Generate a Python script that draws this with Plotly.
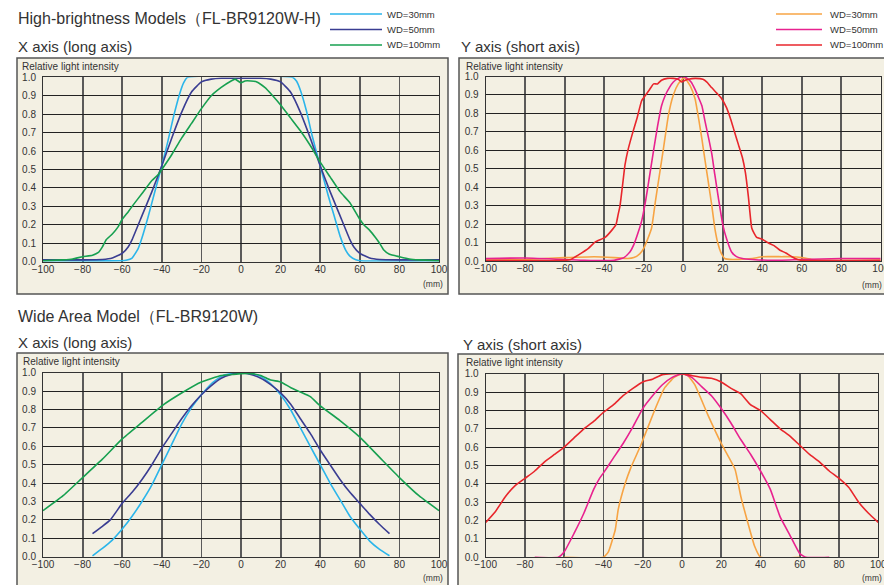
import plotly.graph_objects as go

W, H = 884, 585

# ---------------- DATA ----------------
x_ticks = [-100, -80, -60, -40, -20, 0, 20, 40, 60, 80, 100]
y_ticks = [0.0, 0.1, 0.2, 0.3, 0.4, 0.5, 0.6, 0.7, 0.8, 0.9, 1.0]

# High-brightness, X axis (long axis)
hbx_wd30_x = [-100, -60, -58, -55, -52, -50, -47, -44, -40, -37, -34, -31, -29, -27, 26, 28, 30, 33, 36, 40, 44, 47, 50, 53, 55, 58, 60, 100]
hbx_wd30_y = [0.005, 0.005, 0.008, 0.02, 0.07, 0.13, 0.24, 0.36, 0.52, 0.65, 0.79, 0.91, 0.97, 1.0, 1.0, 0.98, 0.93, 0.82, 0.68, 0.52, 0.36, 0.25, 0.14, 0.06, 0.03, 0.01, 0.005, 0.005]
hbx_wd50_x = [-100, -80, -70, -65, -60, -57, -55, -50, -45, -40, -35, -30, -25, -20, -15, -10, 0, 10, 15, 20, 25, 30, 35, 40, 45, 50, 55, 57, 60, 65, 70, 80, 100]
hbx_wd50_y = [0.01, 0.01, 0.012, 0.02, 0.045, 0.08, 0.12, 0.25, 0.38, 0.52, 0.67, 0.81, 0.92, 0.975, 0.99, 0.995, 0.995, 0.995, 0.99, 0.975, 0.92, 0.81, 0.67, 0.52, 0.38, 0.25, 0.12, 0.08, 0.045, 0.02, 0.012, 0.01, 0.01]
hbx_wd100_x = [-100, -90, -85, -80, -75, -72, -70, -68, -65, -62, -60, -57, -55, -50, -45, -42, -40, -35, -30, -25, -20, -15, -10, -5, -3, 0, 2, 5, 8, 12, 16, 20, 25, 30, 35, 40, 45, 50, 55, 60, 62, 65, 68, 70, 72, 75, 80, 85, 90, 100]
hbx_wd100_y = [0.005, 0.01, 0.015, 0.027, 0.035, 0.05, 0.08, 0.12, 0.15, 0.19, 0.23, 0.27, 0.3, 0.37, 0.44, 0.47, 0.5, 0.58, 0.67, 0.75, 0.83, 0.9, 0.945, 0.98, 0.99, 0.97, 0.98, 0.98, 0.975, 0.945, 0.9, 0.85, 0.78, 0.71, 0.63, 0.54, 0.46, 0.38, 0.32, 0.23, 0.2, 0.17, 0.13, 0.1, 0.065, 0.04, 0.027, 0.015, 0.01, 0.005]

# High-brightness, Y axis (short axis)
hby_wd30_x = [-100, -80, -60, -45, -35, -28, -25, -22, -20, -18, -16, -14, -12, -10, -7.5, -5, -2.5, 0, 1, 3.5, 6, 8, 9.5, 11, 12.7, 14.5, 16, 17.5, 19, 21, 25, 35, 40, 50, 55, 60, 65, 70, 100]
hby_wd30_y = [0.005, 0.01, 0.02, 0.025, 0.02, 0.015, 0.02, 0.04, 0.07, 0.12, 0.18, 0.33, 0.47, 0.61, 0.79, 0.9, 0.96, 0.99, 0.99, 0.95, 0.88, 0.76, 0.66, 0.55, 0.43, 0.3, 0.18, 0.1, 0.05, 0.015, 0.01, 0.015, 0.025, 0.025, 0.025, 0.02, 0.01, 0.005, 0.005]
hby_wd50_x = [-100, -80, -60, -50, -35, -30, -27, -25, -23, -21, -19, -17.5, -15, -13, -11, -9, -7, -5, -2.5, 0, 2, 4, 6, 8, 9.5, 11, 13, 14.5, 16, 18, 20, 22, 24.5, 27, 30, 35, 45, 60, 80, 100]
hby_wd50_y = [0.015, 0.018, 0.01, 0.005, 0.005, 0.02, 0.05, 0.09, 0.15, 0.22, 0.33, 0.43, 0.6, 0.73, 0.84, 0.9, 0.94, 0.97, 0.99, 1.0, 0.99, 0.97, 0.93, 0.88, 0.84, 0.76, 0.66, 0.58, 0.47, 0.33, 0.2, 0.12, 0.05, 0.025, 0.015, 0.01, 0.005, 0.01, 0.015, 0.015]
hby_wd100_x = [-100, -60, -57, -53, -48, -44.5, -39.5, -36, -34, -33, -32, -30.5, -29.5, -28, -26, -23.5, -21, -19, -17, -15, -13, -11, -8, -5, -2.5, -0.8, 1, 2.6, 6, 10, 12, 14.4, 17, 19.5, 22, 24, 26, 28, 30, 31.5, 33, 34.7, 36, 37.2, 40, 43, 46, 49, 52, 55, 58, 60, 100]
hby_wd100_y = [0.005, 0.005, 0.01, 0.035, 0.07, 0.105, 0.13, 0.17, 0.2, 0.25, 0.3, 0.43, 0.52, 0.6, 0.68, 0.77, 0.87, 0.9, 0.93, 0.96, 0.96, 0.98, 0.99, 0.99, 0.985, 0.97, 0.98, 0.985, 0.99, 0.985, 0.97, 0.94, 0.91, 0.88, 0.83, 0.77, 0.7, 0.63, 0.56, 0.48, 0.35, 0.18, 0.15, 0.13, 0.12, 0.1, 0.085, 0.06, 0.045, 0.025, 0.01, 0.005, 0.005]

# Wide area, X axis (long axis)
wax_wd30_x = [-75, -70, -65, -60, -55, -50, -45, -40, -35, -30, -25, -20, -15, -10, -5, 0, 5, 10, 15, 20, 25, 30, 35, 40, 45, 50, 55, 60, 65, 70, 75]
wax_wd30_y = [0.005, 0.045, 0.09, 0.15, 0.22, 0.3, 0.39, 0.5, 0.61, 0.72, 0.81, 0.88, 0.94, 0.98, 0.995, 1.0, 0.995, 0.98, 0.94, 0.88, 0.8, 0.7, 0.6, 0.5, 0.4, 0.31, 0.22, 0.15, 0.085, 0.04, 0.005]
wax_wd50_x = [-75, -70, -66, -60, -55, -50, -45, -40, -35, -30, -25, -20, -15, -10, -5, 0, 5, 10, 15, 20, 25, 30, 35, 40, 45, 50, 55, 60, 65, 70, 75]
wax_wd50_y = [0.125, 0.165, 0.2, 0.29, 0.35, 0.42, 0.5, 0.59, 0.67, 0.75, 0.82, 0.88, 0.93, 0.97, 0.99, 1.0, 0.99, 0.97, 0.935, 0.89, 0.83, 0.75, 0.67, 0.58, 0.5, 0.42, 0.35, 0.29, 0.23, 0.175, 0.125]
wax_wd100_x = [-100, -90, -80, -70, -60, -50, -40, -30, -20, -10, -5, 0, 5, 10, 15, 20, 25, 30, 35, 40, 50, 60, 70, 80, 90, 100]
wax_wd100_y = [0.25, 0.33, 0.43, 0.53, 0.64, 0.73, 0.82, 0.89, 0.95, 0.985, 0.99, 0.995, 0.995, 0.985, 0.96, 0.95, 0.92, 0.895, 0.87, 0.82, 0.74, 0.65, 0.54, 0.43, 0.33, 0.25]

# Wide area, Y axis (short axis)
way_wd30_x = [-60, -40, -37.5, -34, -32.5, -29, -26, -21, -14, -9, -4, 0, 3, 6.5, 13, 20, 27, 30, 33.5, 37, 40, 60]
way_wd30_y = [0.0, 0.0, 0.03, 0.15, 0.26, 0.4, 0.49, 0.61, 0.8, 0.92, 0.98, 1.0, 0.99, 0.94, 0.78, 0.62, 0.48, 0.33, 0.19, 0.06, 0.0, 0.0]
way_wd50_x = [-75, -63, -60, -55, -50, -45, -42, -40, -35, -30, -25, -20, -15, -10, -5, 0, 5, 10, 15, 20, 25, 30, 35, 40, 45, 50, 55, 60, 63, 75]
way_wd50_y = [0.0, 0.0, 0.03, 0.13, 0.24, 0.37, 0.43, 0.46, 0.54, 0.62, 0.71, 0.81, 0.88, 0.94, 0.98, 1.0, 0.98, 0.93, 0.88, 0.81, 0.73, 0.64, 0.56, 0.47, 0.37, 0.22, 0.12, 0.02, 0.0, 0.0]
way_wd100_x = [-100, -95, -90, -85, -80, -75, -70, -65, -60, -55, -50, -45, -40, -35, -30, -25, -20, -15, -10, -5, 0, 5, 10, 15, 20, 25, 30, 35, 40, 45, 50, 55, 60, 65, 70, 75, 80, 85, 90, 95, 100]
way_wd100_y = [0.19, 0.25, 0.33, 0.39, 0.43, 0.47, 0.52, 0.56, 0.6, 0.65, 0.7, 0.74, 0.79, 0.83, 0.88, 0.92, 0.955, 0.97, 0.995, 1.0, 1.0, 0.99, 0.98, 0.975, 0.955, 0.92, 0.89, 0.83, 0.8, 0.75, 0.7, 0.66, 0.61, 0.56, 0.52, 0.47, 0.43, 0.38, 0.3, 0.24, 0.19]

legend_labels = ["WD=30mm", "WD=50mm", "WD=100mm"]
x_colors = ["#2bb5ea", "#3a3d92", "#17a050"]
y_colors = ["#f7a444", "#e8228f", "#e8262c"]

# ---------------- LAYOUT HELPERS ----------------
FONT = "Liberation Sans"
TXT = "#333333"
BG = "#f3f0e3"


def px(x):
    return x / W


def py(y):
    return 1 - y / H


# plot areas in screen pixels: (left, right, top, bottom)
areas = {
    1: (43, 439, 77.3, 261.7),
    2: (485.7, 880.7, 76.5, 261.3),
    3: (43, 439, 372.7, 556.7),
    4: (485.7, 878.3, 373.7, 557.3),
}

fig = go.Figure()

series = [
    (1, [(hbx_wd30_x, hbx_wd30_y), (hbx_wd50_x, hbx_wd50_y), (hbx_wd100_x, hbx_wd100_y)], x_colors),
    (2, [(hby_wd30_x, hby_wd30_y), (hby_wd50_x, hby_wd50_y), (hby_wd100_x, hby_wd100_y)], y_colors),
    (3, [(wax_wd30_x, wax_wd30_y), (wax_wd50_x, wax_wd50_y), (wax_wd100_x, wax_wd100_y)], x_colors),
    (4, [(way_wd30_x, way_wd30_y), (way_wd50_x, way_wd50_y), (way_wd100_x, way_wd100_y)], y_colors),
]

for idx, data, cols in series:
    xa = "x" if idx == 1 else f"x{idx}"
    ya = "y" if idx == 1 else f"y{idx}"
    for (xs, ys), c, name in zip(data, cols, legend_labels):
        fig.add_trace(go.Scatter(x=xs, y=ys, mode="lines", name=name,
                                 line=dict(color=c, width=1.6, shape="spline", smoothing=0.4),
                                 xaxis=xa, yaxis=ya, showlegend=False,
                                 cliponaxis=True))

layout = dict(
    width=W, height=H,
    autosize=False,
    margin=dict(l=0, r=0, t=0, b=0, pad=0, autoexpand=False),
    paper_bgcolor="white",
    plot_bgcolor="rgba(0,0,0,0)",
    font=dict(family=FONT, color=TXT),
    showlegend=False,
)

for idx, (l, r, t, b) in areas.items():
    xk = "xaxis" if idx == 1 else f"xaxis{idx}"
    yk = "yaxis" if idx == 1 else f"yaxis{idx}"
    xa_ref = "x" if idx == 1 else f"x{idx}"
    ya_ref = "y" if idx == 1 else f"y{idx}"
    layout[xk] = dict(domain=[px(l), px(r)], range=[-100, 100], anchor=ya_ref,
                      tickvals=x_ticks, showgrid=True, gridcolor="#5a5a5a", gridwidth=1.8,
                      zeroline=False, showline=True, linecolor="#333333", linewidth=1, mirror=True,
                      ticks="", ticklabelstandoff=-2, automargin=False, ticklabeloverflow="allow",
                      tickfont=dict(size=10, color=TXT, family=FONT), fixedrange=True)
    layout[yk] = dict(domain=[py(b), py(t)], range=[0, 1], anchor=xa_ref,
                      tickvals=y_ticks, tickformat=".1f", showgrid=True, gridcolor="#222222", gridwidth=1,
                      zeroline=False, showline=True, linecolor="#333333", linewidth=1, mirror=True,
                      ticks="", ticklabelstandoff=4, automargin=False,
                      tickfont=dict(size=10, color=TXT, family=FONT), fixedrange=True)

shapes = []
# panel boxes
boxes = [(17, 448, 58, 294), (459, 900, 58, 294), (17, 448, 353, 610), (458, 900, 354, 610)]
for (l, r, t, b) in boxes:
    shapes.append(dict(type="rect", xref="paper", yref="paper", x0=px(l), x1=px(r), y0=py(b), y1=py(t),
                       fillcolor=BG, line=dict(color="#555555", width=1.5), layer="below"))

annotations = []


def text(x, y, s, size, anchor="left"):
    annotations.append(dict(xref="paper", yref="paper", x=px(x), y=py(y), text=s, showarrow=False,
                            xanchor=anchor, yanchor="middle", borderpad=0,
                            font=dict(size=size, color=TXT, family=FONT)))


# legends
leg_y = [14, 29.5, 45]
for (x0, x1, tx, cols) in [(330, 382, 386, x_colors), (776, 822, 829, y_colors)]:
    for yy, c, lab in zip(leg_y, cols, legend_labels):
        shapes.append(dict(type="line", xref="paper", yref="paper", x0=px(x0), x1=px(x1), y0=py(yy), y1=py(yy),
                           line=dict(color=c, width=1.5)))
        text(tx, yy, lab, 9.5)

# titles
text(17, 19, "High-brightness Models（FL-BR9120W-H)", 16)
text(17, 46.5, "X axis (long axis)", 15)
text(460, 46.5, "Y axis (short axis)", 15)
text(17, 316, "Wide Area Model（FL-BR9120W)", 16)
text(17, 342, "X axis (long axis)", 15)
text(462, 344.5, "Y axis (short axis)", 15)

# in-box labels
for (x, y) in [(21, 66), (465, 66), (22, 361), (465, 362)]:
    text(x, y, "Relative light intensity", 10)
for (x, y) in [(444, 284), (883, 285), (444, 578), (883, 578)]:
    text(x, y, "(mm)", 8.5, anchor="right")

layout["shapes"] = shapes
layout["annotations"] = annotations
fig.update_layout(**layout)

fig.write_html(
    "out.html",
    config={"displayModeBar": False, "staticPlot": True},
    post_script="document.body.style.margin='0';document.documentElement.style.overflow='hidden';document.body.style.overflow='hidden';",
)
